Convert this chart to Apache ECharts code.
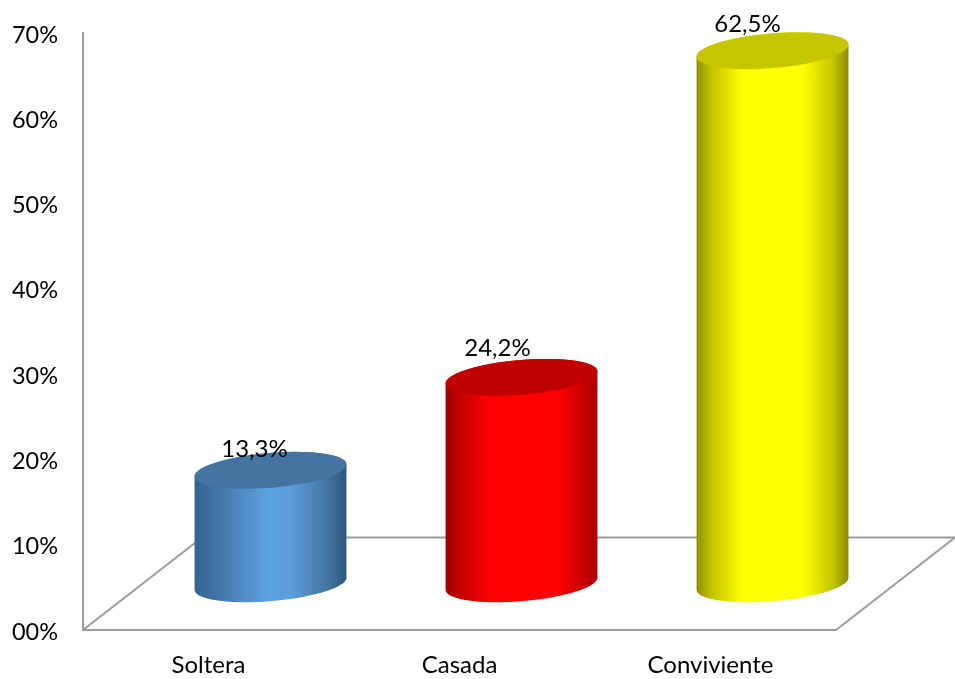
<!DOCTYPE html>
<html>
<head>
<meta charset="utf-8">
<style>html,body{margin:0;padding:0;background:#fff}#c{width:955px;height:679px}</style>
<script src="https://cdn.jsdelivr.net/npm/echarts@6/dist/echarts.min.js"></script>
</head>
<body>
<div id="c"></div>
<script>
var categories = ['Soltera', 'Casada', 'Conviviente'];
var values = [13.3, 24.2, 62.5];
var yTicks = { min: 0, max: 70, interval: 10 };

var topColors = ['#44749f', '#c00000', '#c6c600'];
var sideStops = [
  [[0,'#33628f'],[0.3,'#4f8ac2'],[0.5,'#5fa3e3'],[0.65,'#5b9bd8'],[0.85,'#477aa8'],[1,'#2c577d']],
  [[0,'#a00000'],[0.08,'#c00000'],[0.3,'#ff0000'],[0.72,'#ff0000'],[0.92,'#c80000'],[1,'#a80000']],
  [[0,'#8f8f00'],[0.1,'#c4c400'],[0.3,'#ffff00'],[0.7,'#ffff00'],[0.9,'#c4c400'],[1,'#8a8a00']]
];
var labelShift = [[-16,-21],[-24,-29],[-25,-26]];

var FONT = 'Lato';
var LINE = '#9c9c9c';
var DEPTH = [119, -92.5];
var TILT = 4.8 * Math.PI / 180;

function ringPoint(cx, cy, a, b, t) {
  var u = a * Math.cos(t), v = b * Math.sin(t);
  return [cx + u * Math.cos(TILT) + v * Math.sin(TILT), cy - u * Math.sin(TILT) + v * Math.cos(TILT)];
}
function arc(cx, cy, a, b, from, to) {
  var pts = [];
  for (var i = 0; i <= 60; i++) pts.push(ringPoint(cx, cy, a, b, from + (to - from) * i / 60));
  return pts;
}

function renderFloor(params) {
  var c = params.coordSys;
  var x0 = c.x, y0 = c.y + c.height, x1 = c.x + c.width;
  var ls = { stroke: LINE, lineWidth: 2, fill: null };
  return {
    type: 'group', silent: true,
    children: [
      { type: 'line', shape: { x1: x0, y1: y0, x2: x0 + DEPTH[0], y2: y0 + DEPTH[1] }, style: ls },
      { type: 'line', shape: { x1: x0 + DEPTH[0], y1: y0 + DEPTH[1], x2: x1 + DEPTH[0], y2: y0 + DEPTH[1] }, style: ls },
      { type: 'line', shape: { x1: x1, y1: y0, x2: x1 + DEPTH[0], y2: y0 + DEPTH[1] }, style: ls }
    ]
  };
}

function renderCylinder(params, api) {
  var i = api.value(0), v = api.value(1);
  var base = api.coord([i, 0]), top = api.coord([i, v]);
  var a = api.size([1, 0])[0] * 0.3035, b = 17.4;
  var dx = DEPTH[0] / 2 + 2.5, dy = DEPTH[1] / 2;
  var cx = base[0] + dx, by = base[1] + dy, ty = top[1] + dy;
  var t0 = Math.atan(b * Math.tan(TILT) / a);
  var body = arc(cx, by, a, b, t0, t0 + Math.PI).concat(arc(cx, ty, a, b, t0 + Math.PI, t0 + 2 * Math.PI));
  var lid = arc(cx, ty, a, b, 0, 2 * Math.PI);
  return {
    type: 'group',
    children: [
      { type: 'polygon', shape: { points: body },
        style: { fill: { type: 'linear', x: 0, y: 0, x2: 1, y2: 0,
          colorStops: sideStops[i].map(function (s) { return { offset: s[0], color: s[1] }; }) } } },
      { type: 'polygon', shape: { points: lid }, style: { fill: topColors[i] } },
      { type: 'text', style: {
          text: v.toFixed(1).replace('.', ',') + '%',
          x: cx + labelShift[i][0], y: ty + labelShift[i][1],
          align: 'center', verticalAlign: 'middle',
          font: '24px ' + FONT, fill: '#000' } }
    ]
  };
}

var chart = echarts.init(document.getElementById('c'), null, { renderer: 'canvas' });
chart.setOption({
  animation: false,
  backgroundColor: '#fff',
  grid: { left: 83, right: 119, top: 33, bottom: 49 },
  xAxis: {
    type: 'category', data: categories,
    axisTick: { show: false },
    axisLine: { lineStyle: { color: LINE, width: 2 } },
    axisLabel: { color: '#000', fontFamily: FONT, fontSize: 24, margin: 23 }
  },
  yAxis: {
    type: 'value', min: yTicks.min, max: yTicks.max, interval: yTicks.interval,
    splitLine: { show: false },
    axisTick: { show: false },
    axisLine: { show: true, lineStyle: { color: LINE, width: 2 } },
    axisLabel: { color: '#000', fontFamily: FONT, fontSize: 23.5, margin: 25,
      formatter: function (v) { return '{t|' + (v === 0 ? '00%' : v + '%') + '}'; },
      rich: { t: { color: '#000', fontFamily: FONT, fontSize: 23.5, padding: [4, 0, 0, 0] } } }
  },
  series: [
    { type: 'custom', renderItem: renderFloor, data: [[0, 0]], silent: true, clip: false, z: 1 },
    { type: 'custom', renderItem: renderCylinder, clip: false, z: 2,
      data: values.map(function (v, i) { return [i, v]; }),
      encode: { x: 0, y: 1 } }
  ]
});
</script>
</body>
</html>
